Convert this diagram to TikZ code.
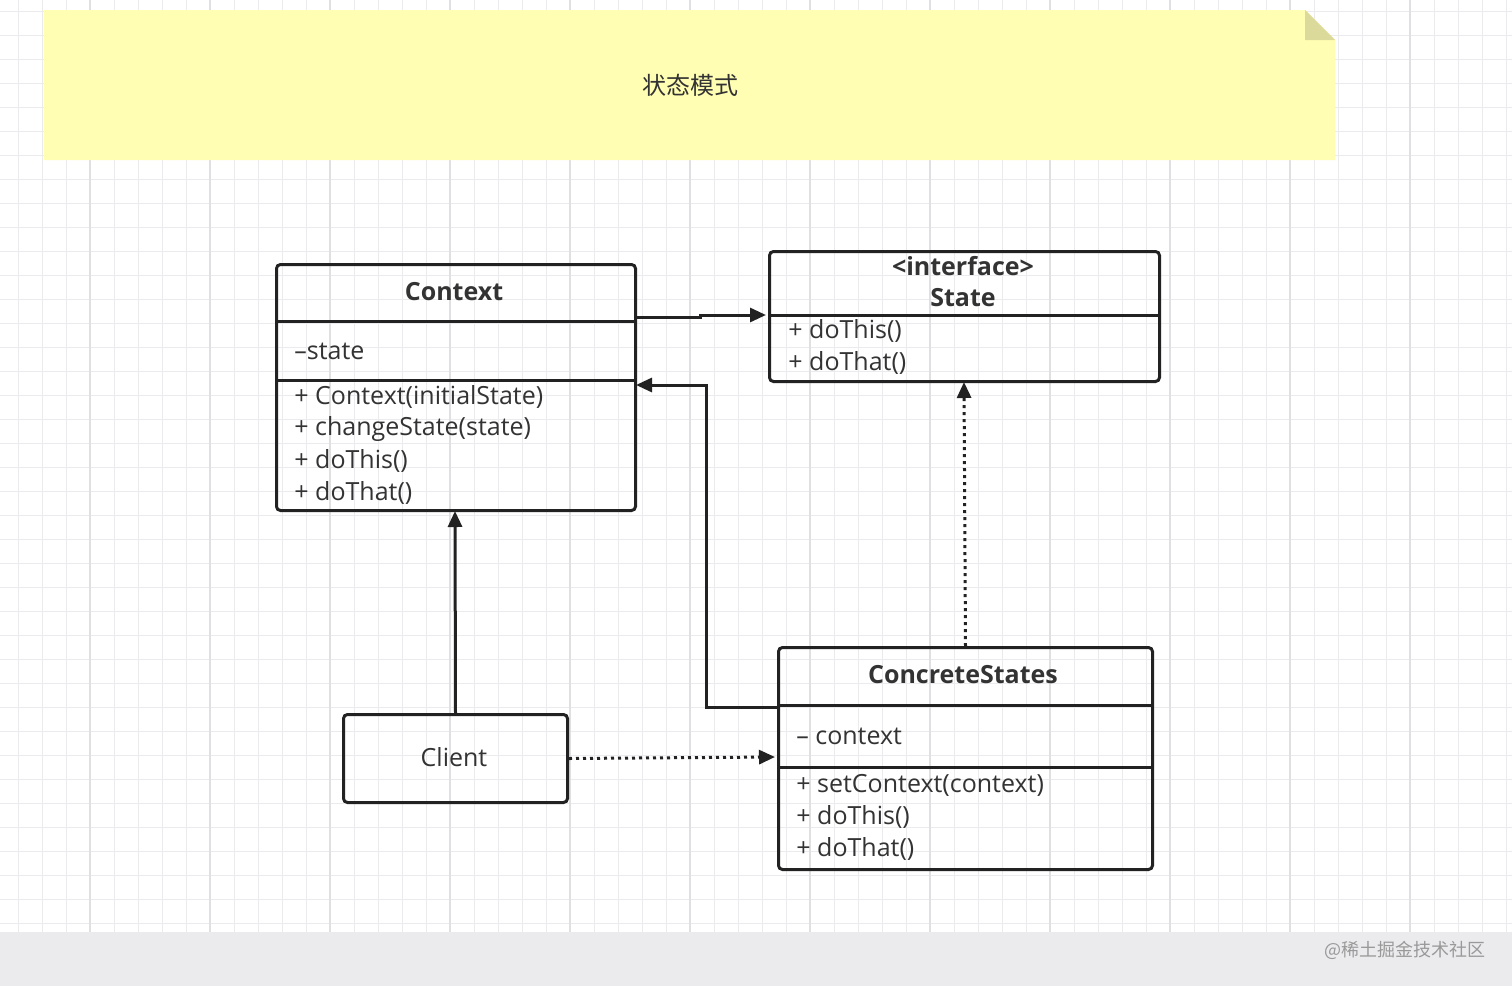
\documentclass[tikz,border=0pt]{standalone}
\usepackage{fontspec}
\setmainfont{Open Sans}
\newfontfamily\cjk{Noto Sans CJK SC}
\usetikzlibrary{arrows.meta}
\definecolor{ln}{HTML}{222222}
\definecolor{gridc}{HTML}{EBEBED}
\definecolor{gridm}{HTML}{E0E0E3}
\definecolor{note}{HTML}{FFFEB3}
\definecolor{fold}{HTML}{DCDA9A}
\definecolor{band}{HTML}{EBEBEE}
\definecolor{txt}{HTML}{333333}
\begin{document}
\begin{tikzpicture}[x=0.5pt,y=-0.5pt,
  box/.style={draw=ln,line width=1.5pt,rounded corners=2pt,anchor=north west,inner sep=0},
  sep/.style={draw=ln,line width=1.5pt},
  t/.style={text=txt,font=\fontsize{12.5}{14}\selectfont,inner sep=0},
  tb/.style={t,font=\fontsize{12.5}{14}\selectfont\bfseries},
  tl/.style={t,anchor=west},
  arr/.style={draw=ln,line width=1.5pt,-{Triangle[length=8pt,width=7pt]}},
  dot/.style={arr,dash pattern=on 1.5pt off 2pt}]
\useasboundingbox (0,0) rectangle (1512,986);
\fill[white] (0,0) rectangle (1512,932);
\foreach \x in {18,42,...,1512} \draw[gridc,line width=0.5pt] (\x,0)--(\x,932);
\foreach \y in {11,35,...,932} \draw[gridc,line width=0.5pt] (0,\y)--(1512,\y);
\foreach \x in {90,210,...,1512} \draw[gridm,line width=0.8pt] (\x,0)--(\x,932);
\fill[band] (0,932) rectangle (1512,986);
\node[t,anchor=east,text=black!40,font=\cjk\fontsize{9}{10}\selectfont] (wm) at (1486,950) {@稀土掘金技术社区};
% note
\fill[note] (44,10) -- (1305,10) -- (1335,40) -- (1335,160) -- (44,160) -- cycle;
\fill[fold] (1305,10) -- (1335,40) -- (1305,40) -- cycle;
\node[t,font=\cjk\fontsize{12}{14}\selectfont] (title) at (690,85) {状态模式};
% Context
\node[box,minimum width=179.5pt,minimum height=123pt] (ctx) at (275,263) {};
\draw[sep] (275,321)--(634,321); \draw[sep] (275,380)--(634,380);
\node[tb] (ctxn) at (454,292) {Context};
\node[tl] (c1) at (294,351) {–state};
\node[tl] (c2) at (294,397) {+ Context(initialState)};
\node[tl] (c3) at (294,429) {+ changeState(state)};
\node[tl] (c4) at (294,461) {+ doThis()};
\node[tl] (c5) at (294,493) {+ doThat()};
% State
\node[box,minimum width=195pt,minimum height=65pt] (st) at (768,250) {};
\draw[sep] (768,315)--(1158,315);
\node[tb] (s0) at (963,266) {<interface>};
\node[tb] (s1) at (963,298) {State};
\node[tl] (s2) at (788,331) {+ doThis()};
\node[tl] (s3) at (788,363) {+ doThat()};
% ConcreteStates
\node[box,minimum width=187pt,minimum height=111pt] (cs) at (777,646) {};
\draw[sep] (777,705)--(1151,705); \draw[sep] (777,767)--(1151,767);
\node[tb] (csn) at (963,675) {ConcreteStates};
\node[tl] (k1) at (796,736) {– context};
\node[tl] (k2) at (796,785) {+ setContext(context)};
\node[tl] (k3) at (796,817) {+ doThis()};
\node[tl] (k4) at (796,849) {+ doThat()};
% Client
\node[box,minimum width=112pt,minimum height=44pt] (cl) at (342,713) {};
\node[t] (cln) at (454,757) {Client};
% connectors
\coordinate (a1) at (634,317); \coordinate (a2) at (766,315);
\draw[arr] (a1) -- (700,317) -- (700,315) -- (a2);
\coordinate (b1) at (777,707); \coordinate (b2) at (636,385);
\draw[arr] (b1) -- (706,707) -- (706,385) -- (b2);
\draw[dot] (cs.north) -- (964,382);
\draw[arr] (cl.north) -- (455,511);
\draw[dot] (cl.east) -- (775,757);
\end{tikzpicture}
\end{document}
